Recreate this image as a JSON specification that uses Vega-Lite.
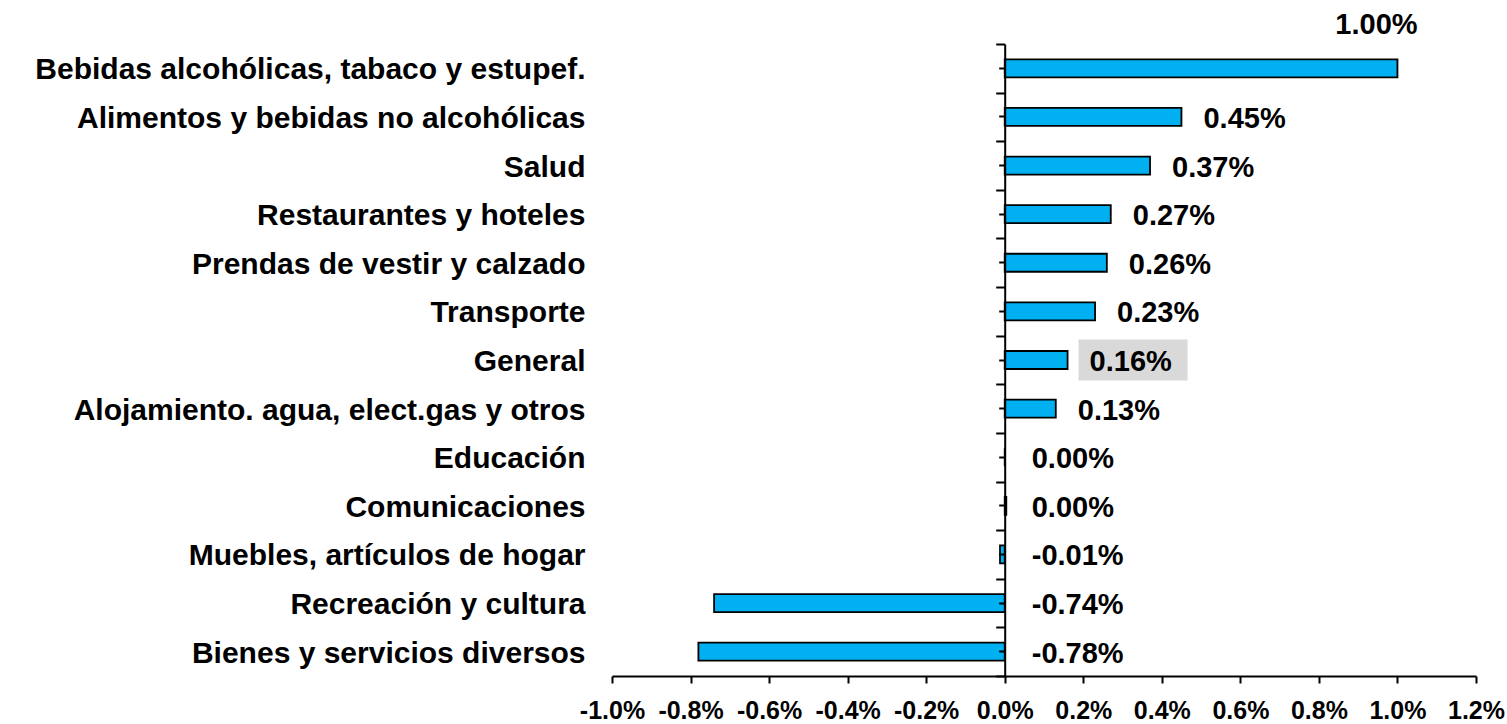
{
  "$schema": "https://vega.github.io/schema/vega-lite/v6.json",
  "width": 864,
  "height": 632,
  "autosize": {"type": "none"},
  "padding": {"left": 612, "top": 44, "right": 31, "bottom": 48},
  "background": "white",
  "config": {"view": {"stroke": null}, "font": "Liberation Sans"},
  "data": {
    "values": [
      {"cat": "Bebidas alcohólicas, tabaco y estupef.", "value": 1.0, "label": "1.00%"},
      {"cat": "Alimentos y bebidas no alcohólicas", "value": 0.45, "label": "0.45%"},
      {"cat": "Salud", "value": 0.37, "label": "0.37%"},
      {"cat": "Restaurantes  y hoteles", "value": 0.27, "label": "0.27%"},
      {"cat": "Prendas de vestir y calzado", "value": 0.26, "label": "0.26%"},
      {"cat": "Transporte", "value": 0.23, "label": "0.23%"},
      {"cat": "General", "value": 0.16, "label": "0.16%"},
      {"cat": "Alojamiento. agua, elect.gas y otros ", "value": 0.13, "label": "0.13%"},
      {"cat": "Educación", "value": 0.0, "label": "0.00%"},
      {"cat": "Comunicaciones", "value": 0.004, "label": "0.00%"},
      {"cat": "Muebles, artículos de hogar", "value": -0.012, "label": "-0.01%"},
      {"cat": "Recreación  y cultura", "value": -0.74, "label": "-0.74%"},
      {"cat": "Bienes y servicios diversos", "value": -0.78, "label": "-0.78%"}
    ]
  },
  "resolve": {"axis": {"y": "independent"}},
  "layer": [
    {
      "mark": {"type": "bar", "fill": "#00B0F0", "stroke": "black", "strokeWidth": 1.8, "size": 18},
      "encoding": {
        "x": {
          "field": "value",
          "type": "quantitative",
          "scale": {"domain": [-1, 1.2], "nice": false, "zero": false},
          "axis": {
            "values": [-1, -0.8, -0.6, -0.4, -0.2, 0, 0.2, 0.4, 0.6, 0.8, 1, 1.2],
            "labelExpr": "(datum.value < -0.001 ? '-' : '') + format(abs(datum.value), '.1f') + '%'",
            "title": null,
            "grid": false,
            "domainColor": "black",
            "domainWidth": 2,
            "tickColor": "black",
            "tickWidth": 2,
            "tickSize": 7,
            "labelFont": "Liberation Sans",
            "labelFontSize": 25,
            "labelFontWeight": "bold",
            "labelColor": "black",
            "labelPadding": 15,
            "labelFlush": false,
            "labelOverlap": false
          }
        },
        "y": {
          "field": "cat",
          "type": "nominal",
          "sort": null,
          "scale": {"paddingInner": 0, "paddingOuter": 0},
          "axis": {
            "orient": "left",
            "title": null,
            "domain": false,
            "ticks": false,
            "labelPadding": 27,
            "labelOffset": 2,
            "labelFont": "Liberation Sans",
            "labelFontSize": 30,
            "labelFontWeight": "bold",
            "labelColor": "black",
            "labelLimit": 0
          }
        }
      }
    },
    {
      "transform": [{"filter": "datum.cat == 'General'"}],
      "mark": {"type": "bar", "fill": "#d9d9d9", "size": 41, "xOffset": 11, "x2Offset": 120},
      "encoding": {
        "x": {"field": "value", "type": "quantitative"},
        "x2": {"field": "value"},
        "y": {"field": "cat", "type": "nominal", "sort": null, "axis": null}
      }
    },
    {
      "mark": {"type": "point", "opacity": 0},
      "encoding": {
        "x": {"field": "value", "type": "quantitative"},
        "y": {
          "field": "cat",
          "type": "nominal",
          "sort": null,
          "axis": {
            "orient": "left",
            "offset": -392.7,
            "title": null,
            "labels": false,
            "domain": true,
            "domainColor": "black",
            "domainWidth": 2,
            "ticks": true,
            "tickBand": "extent",
            "tickColor": "black",
            "tickWidth": 2,
            "tickSize": 9,
            "zindex": 2
          }
        }
      }
    },
    {
      "mark": {"type": "point", "opacity": 0},
      "encoding": {
        "x": {"field": "value", "type": "quantitative"},
        "y": {
          "field": "cat",
          "type": "nominal",
          "sort": null,
          "axis": {
            "orient": "left",
            "offset": -392.7,
            "title": null,
            "labels": false,
            "domain": false,
            "ticks": true,
            "tickBand": "center",
            "tickColor": "black",
            "tickWidth": 2,
            "tickSize": 6,
            "zindex": 2
          }
        }
      }
    },
    {
      "transform": [{"filter": "datum.value >= 0.99"}],
      "mark": {"type": "text", "align": "center", "baseline": "middle", "dx": -21, "dy": -43, "font": "Liberation Sans", "fontSize": 29, "fontWeight": "bold", "color": "black"},
      "encoding": {
        "x": {"field": "value", "type": "quantitative"},
        "y": {"field": "cat", "type": "nominal", "sort": null, "axis": null},
        "text": {"field": "label"}
      }
    },
    {
      "transform": [{"filter": "datum.value > 0.05 && datum.value < 0.99"}],
      "mark": {"type": "text", "align": "left", "baseline": "middle", "dx": 22, "dy": 2, "font": "Liberation Sans", "fontSize": 29, "fontWeight": "bold", "color": "black"},
      "encoding": {
        "x": {"field": "value", "type": "quantitative"},
        "y": {"field": "cat", "type": "nominal", "sort": null, "axis": null},
        "text": {"field": "label"}
      }
    },
    {
      "transform": [{"filter": "datum.value <= 0.05"}],
      "mark": {"type": "text", "align": "left", "baseline": "middle", "dx": 27, "dy": 2, "font": "Liberation Sans", "fontSize": 29, "fontWeight": "bold", "color": "black"},
      "encoding": {
        "x": {"datum": 0, "type": "quantitative"},
        "y": {"field": "cat", "type": "nominal", "sort": null, "axis": null},
        "text": {"field": "label"}
      }
    }
  ]
}
